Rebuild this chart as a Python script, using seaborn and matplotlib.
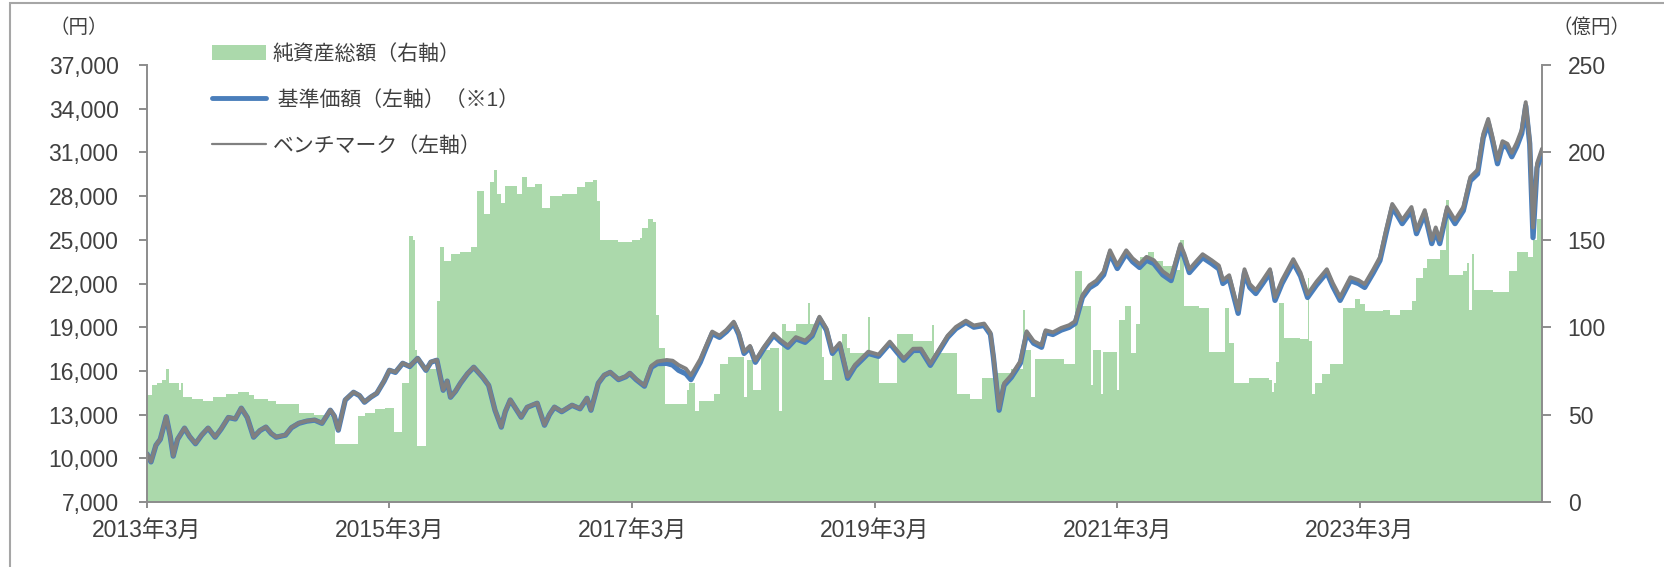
import numpy as np
import pandas as pd
import seaborn as sns
import matplotlib.pyplot as plt
import matplotlib.dates as mdates
from matplotlib.patches import Patch, Rectangle
from matplotlib.lines import Line2D

# 基準価額 / ベンチマーク (円)
price_dates = [
    "2013-03-01", "2013-03-13", "2013-03-28", "2013-04-10", "2013-04-28", "2013-05-10",
    "2013-05-19", "2013-06-01", "2013-06-22", "2013-07-07", "2013-07-25", "2013-08-13",
    "2013-09-01", "2013-09-22", "2013-10-10", "2013-11-01", "2013-11-22", "2013-12-10",
    "2013-12-28", "2014-01-16", "2014-02-04", "2014-02-22", "2014-03-10", "2014-03-25",
    "2014-04-22", "2014-05-10", "2014-06-01", "2014-06-25", "2014-07-19", "2014-08-10",
    "2014-09-04", "2014-09-16", "2014-09-28", "2014-10-19", "2014-11-13", "2014-12-01",
    "2014-12-16", "2015-01-04", "2015-01-22", "2015-02-13", "2015-03-01", "2015-03-19",
    "2015-04-10", "2015-05-01", "2015-05-25", "2015-06-19", "2015-07-04", "2015-07-22",
    "2015-08-10", "2015-08-22", "2015-09-01", "2015-09-16", "2015-10-01", "2015-10-22",
    "2015-11-10", "2015-12-07", "2015-12-25", "2016-01-13", "2016-02-01", "2016-02-13",
    "2016-02-28", "2016-03-13", "2016-04-01", "2016-04-19", "2016-05-19", "2016-06-10",
    "2016-06-25", "2016-07-10", "2016-08-01", "2016-09-01", "2016-09-25", "2016-10-16",
    "2016-10-28", "2016-11-19", "2016-12-07", "2016-12-25", "2017-01-19", "2017-02-10",
    "2017-02-22", "2017-03-13", "2017-04-07", "2017-04-28", "2017-05-16", "2017-06-13",
    "2017-07-01", "2017-07-19", "2017-08-10", "2017-08-25", "2017-09-22", "2017-10-10",
    "2017-10-28", "2017-11-19", "2017-12-10", "2018-01-01", "2018-01-16", "2018-02-01",
    "2018-02-19", "2018-03-07", "2018-04-01", "2018-05-01", "2018-05-22", "2018-06-13",
    "2018-07-07", "2018-08-04", "2018-08-25", "2018-09-16", "2018-10-07", "2018-10-25",
    "2018-11-16", "2018-12-10", "2019-01-01", "2019-01-19", "2019-02-10", "2019-03-13",
    "2019-04-16", "2019-05-07", "2019-05-28", "2019-06-25", "2019-07-19", "2019-08-16",
    "2019-09-10", "2019-10-07", "2019-11-01", "2019-12-01", "2019-12-25", "2020-01-25",
    "2020-02-13", "2020-02-22", "2020-03-10", "2020-03-25", "2020-04-16", "2020-05-13",
    "2020-06-01", "2020-06-22", "2020-07-16", "2020-07-28", "2020-08-19", "2020-09-13",
    "2020-10-07", "2020-10-25", "2020-11-16", "2020-12-07", "2020-12-28", "2021-01-19",
    "2021-02-07", "2021-03-01", "2021-03-28", "2021-04-16", "2021-05-07", "2021-05-28",
    "2021-06-19", "2021-07-16", "2021-08-10", "2021-09-07", "2021-09-19", "2021-10-04",
    "2021-10-25", "2021-11-13", "2021-12-10", "2022-01-01", "2022-01-13", "2022-02-01",
    "2022-02-28", "2022-03-19", "2022-04-04", "2022-04-22", "2022-05-13", "2022-06-04",
    "2022-06-19", "2022-07-10", "2022-08-13", "2022-09-04", "2022-09-25", "2022-10-22",
    "2022-11-22", "2022-12-10", "2023-01-01", "2023-02-01", "2023-02-25", "2023-03-16",
    "2023-04-10", "2023-05-01", "2023-05-19", "2023-06-07", "2023-06-22", "2023-07-07",
    "2023-08-04", "2023-08-19", "2023-09-13", "2023-10-04", "2023-10-16", "2023-10-28",
    "2023-11-19", "2023-12-13", "2024-01-07", "2024-01-28", "2024-02-19", "2024-03-07",
    "2024-03-22", "2024-04-04", "2024-04-19", "2024-05-04", "2024-05-19", "2024-06-01",
    "2024-06-16", "2024-07-01", "2024-07-13", "2024-07-25", "2024-08-04", "2024-08-16",
    "2024-08-31",
]
nav = [
    10300, 9750, 10900, 11300, 12850, 11500, 10150, 11300, 12070, 11500, 11000, 11600,
    12070, 11450, 12000, 12800, 12700, 13440, 12800, 11450, 11900, 12140, 11700, 11450,
    11590, 12100, 12400, 12550, 12620, 12400, 13300, 12900, 11930, 14000, 14530, 14300,
    13850, 14200, 14460, 15300, 16040, 15900, 16520, 16300, 16860, 16040, 16600, 16730,
    14670, 15300, 14190, 14600, 15150, 15800, 16250, 15560, 15000, 13300, 12140, 13200,
    14000, 13500, 12820, 13500, 13780, 12270, 13000, 13510, 13200, 13640, 13400, 14120,
    13300, 15150, 15700, 15900, 15400, 15600, 15830, 15400, 14950, 16250, 16500, 16520,
    16400, 16040, 15800, 15400, 16590, 17600, 18570, 18300, 18700, 19260, 18500, 17200,
    17600, 16590, 17500, 18440, 18000, 17620, 18200, 17960, 18400, 19600, 18800, 17200,
    17800, 15490, 16300, 16700, 17200, 17000, 17890, 17300, 16730, 17400, 17410, 16380,
    17300, 18300, 18900, 19330, 19000, 19120, 18500, 16930, 13300, 15000, 15560, 16520,
    18570, 17900, 17620, 18640, 18500, 18800, 18990, 19260, 21040, 21700, 22000, 22600,
    24050, 23030, 24050, 23500, 23100, 23600, 23370, 22600, 22200, 24470, 23800, 22750,
    23300, 23780, 23370, 23000, 22000, 22340, 19950, 22750, 21730, 21310, 22000, 22750,
    20840, 22000, 23440, 22500, 21040, 21900, 22750, 21800, 20840, 22200, 22000, 21730,
    22700, 23580, 25400, 27210, 26700, 26110, 27000, 25420, 26790, 24740, 25600, 24740,
    27000, 26110, 27000, 29050, 29530, 32000, 33030, 31800, 30220, 31500, 31320, 30700,
    31400, 32300, 34190, 31600, 25150, 29950, 30970,
]
benchmark = [
    10320, 9770, 10920, 11320, 12870, 11520, 10170, 11320, 12090, 11520, 11020, 11620,
    12090, 11470, 12020, 12820, 12720, 13460, 12820, 11470, 11920, 12160, 11720, 11470,
    11610, 12120, 12420, 12570, 12640, 12420, 13320, 12920, 11950, 14020, 14550, 14320,
    13870, 14220, 14480, 15320, 16060, 15920, 16540, 16320, 16880, 16060, 16620, 16750,
    14690, 15320, 14210, 14620, 15170, 15820, 16270, 15580, 15020, 13320, 12160, 13220,
    14020, 13520, 12840, 13520, 13800, 12290, 13020, 13530, 13220, 13660, 13420, 14140,
    13320, 15170, 15720, 15920, 15430, 15630, 15860, 15440, 15000, 16350, 16650, 16750,
    16700, 16400, 16150, 15700, 16800, 17750, 18700, 18420, 18820, 19380, 18620, 17320,
    17720, 16710, 17620, 18560, 18120, 17740, 18320, 18080, 18520, 19720, 18920, 17320,
    17920, 15610, 16420, 16820, 17320, 17120, 18010, 17420, 16850, 17520, 17530, 16500,
    17420, 18420, 19020, 19450, 19120, 19250, 18630, 17060, 13450, 15150, 15710, 16670,
    18720, 18050, 17770, 18790, 18650, 18950, 19140, 19410, 21200, 21880, 22200, 22820,
    24280, 23260, 24280, 23730, 23330, 23830, 23600, 22830, 22430, 24700, 24030, 22980,
    23530, 24010, 23600, 23230, 22230, 22570, 20200, 22980, 21960, 21540, 22230, 22980,
    21070, 22230, 23670, 22730, 21270, 22130, 22980, 22030, 21070, 22430, 22230, 21960,
    22930, 23810, 25650, 27460, 26950, 26360, 27250, 25670, 27040, 24990, 25850, 24990,
    27250, 26360, 27250, 29300, 29800, 32270, 33300, 32070, 30500, 31770, 31590, 30970,
    31670, 32570, 34450, 31870, 25850, 30250, 31250,
]

# 純資産総額 (億円)
asset_dates = [
    "2013-03-01", "2013-03-16", "2013-04-01", "2013-04-16", "2013-04-28", "2013-05-07",
    "2013-06-04", "2013-06-10", "2013-06-16", "2013-07-16", "2013-08-16", "2013-09-16",
    "2013-10-25", "2013-12-01", "2014-01-01", "2014-01-16", "2014-03-01", "2014-03-25",
    "2014-06-01", "2014-07-16", "2014-08-16", "2014-09-19", "2014-11-25", "2014-12-16",
    "2015-01-16", "2015-02-16", "2015-03-16", "2015-04-07", "2015-04-28", "2015-05-10",
    "2015-05-16", "2015-05-22", "2015-06-19", "2015-07-22", "2015-08-01", "2015-08-13",
    "2015-09-01", "2015-10-01", "2015-11-01", "2015-11-19", "2015-12-10", "2015-12-28",
    "2016-01-10", "2016-01-19", "2016-02-01", "2016-02-13", "2016-03-19", "2016-04-04",
    "2016-04-19", "2016-05-13", "2016-06-04", "2016-06-28", "2016-08-01", "2016-09-16",
    "2016-10-10", "2016-11-04", "2016-11-16", "2016-11-25", "2017-01-16", "2017-03-01",
    "2017-03-25", "2017-04-01", "2017-04-19", "2017-05-04", "2017-05-13", "2017-05-22",
    "2017-06-07", "2017-08-13", "2017-08-19", "2017-09-07", "2017-09-19", "2017-11-01",
    "2017-11-22", "2017-12-16", "2018-01-16", "2018-02-01", "2018-02-10", "2018-03-01",
    "2018-03-25", "2018-04-19", "2018-05-16", "2018-05-25", "2018-06-07", "2018-07-07",
    "2018-08-13", "2018-08-19", "2018-09-25", "2018-10-01", "2018-10-25", "2018-11-22",
    "2018-12-07", "2018-12-16", "2019-02-10", "2019-02-16", "2019-03-13", "2019-05-07",
    "2019-06-25", "2019-08-22", "2019-08-28", "2019-11-04", "2019-12-13", "2020-01-19",
    "2020-03-01", "2020-04-16", "2020-05-22", "2020-05-28", "2020-06-13", "2020-06-25",
    "2020-09-22", "2020-10-25", "2020-11-16", "2020-12-13", "2020-12-19", "2021-01-10",
    "2021-01-16", "2021-03-01", "2021-03-07", "2021-03-25", "2021-04-10", "2021-04-25",
    "2021-05-07", "2021-06-01", "2021-06-19", "2021-07-16", "2021-08-16", "2021-09-07",
    "2021-09-19", "2021-11-01", "2021-12-01", "2022-01-19", "2022-02-01", "2022-02-16",
    "2022-04-01", "2022-06-01", "2022-06-10", "2022-06-16", "2022-06-22", "2022-07-01",
    "2022-07-16", "2022-09-01", "2022-09-25", "2022-09-28", "2022-10-07", "2022-10-16",
    "2022-11-07", "2022-12-01", "2023-01-10", "2023-02-16", "2023-03-01", "2023-03-16",
    "2023-05-10", "2023-06-01", "2023-07-01", "2023-08-07", "2023-08-19", "2023-09-07",
    "2023-09-19", "2023-10-28", "2023-11-16", "2023-11-25", "2024-01-07", "2024-01-19",
    "2024-01-25", "2024-02-01", "2024-02-07", "2024-04-04", "2024-05-25", "2024-06-16",
    "2024-07-19", "2024-08-04", "2024-08-16", "2024-08-31",
]
net_assets = [
    61, 67, 68, 70, 76, 68, 64, 68, 60, 59, 58, 60,
    62, 63, 61, 59, 58, 56, 51, 50, 49, 33, 49, 51,
    53, 54, 40, 68, 152, 150, 87, 32, 76, 115, 146, 138,
    142, 143, 146, 178, 165, 183, 190, 176, 171, 181, 176, 186,
    180, 182, 168, 175, 176, 180, 183, 184, 172, 150, 149, 150,
    151, 157, 162, 160, 107, 88, 56, 64, 68, 52, 58, 62,
    79, 83, 83, 60, 81, 64, 87, 88, 52, 102, 98, 102,
    114, 102, 83, 70, 88, 96, 88, 85, 106, 85, 68, 96,
    92, 101, 85, 62, 59, 71, 74, 76, 110, 87, 60, 82,
    79, 132, 112, 67, 87, 62, 86, 64, 104, 112, 85, 102,
    140, 143, 138, 135, 133, 150, 112, 111, 86, 111, 91, 68,
    71, 70, 63, 68, 80, 114, 94, 93, 128, 92, 62, 68,
    73, 79, 111, 116, 113, 109, 110, 107, 110, 115, 128, 134,
    139, 144, 173, 130, 132, 137, 110, 142, 121, 120, 132, 143,
    140, 150, 162, 170,
]

x_ticks = ["2013-03-01", "2015-03-01", "2017-03-01", "2019-03-01", "2021-03-01", "2023-03-01"]
left_ticks = list(range(7000, 37001, 3000))
right_ticks = list(range(0, 251, 50))

GREEN = '#abd9ab'
BLUE = '#4a7ebb'
GREY = '#808080'
SPINE = '#8c8c8c'
TEXT = '#404040'

sns.set_theme(style='white')
plt.rcParams['font.family'] = ['Liberation Sans', 'Noto Sans CJK JP']

lines = pd.DataFrame({'date': pd.to_datetime(price_dates), 'nav': nav, 'bench': benchmark})
assets = pd.DataFrame({'date': pd.to_datetime(asset_dates), 'value': net_assets})

fig = plt.figure(figsize=(16.65, 5.67), dpi=100)
ax = fig.add_axes([147 / 1665, 65 / 567, 1395 / 1665, 437 / 567])
ax2 = ax.twinx()

# area on the right axis, drawn behind the lines
ax2.fill_between(assets['date'], assets['value'], step='post', color=GREEN, lw=0)
ax.set_zorder(ax2.get_zorder() + 1)
ax.patch.set_visible(False)

sns.lineplot(data=lines, x='date', y='nav', ax=ax, color=BLUE, lw=3.8, legend=False)
sns.lineplot(data=lines, x='date', y='bench', ax=ax, color=GREY, lw=2.8, legend=False)

ax.set_xlim(pd.Timestamp("2013-03-01"), pd.Timestamp("2024-08-31"))
ax.set_ylim(7000, 37000)
ax2.set_ylim(0, 250)
ax.set_xlabel('')
ax.set_ylabel('')

ax.set_xticks(pd.to_datetime(x_ticks))
ax.set_xticklabels([f"{d[:4]}年{int(d[5:7])}月" for d in x_ticks])
ax.set_yticks(left_ticks)
ax.set_yticklabels([f"{v:,}" for v in left_ticks])
ax2.set_yticks(right_ticks)
ax2.set_yticklabels([str(v) for v in right_ticks])

for a in (ax, ax2):
    a.grid(False)
    a.spines['top'].set_visible(False)
    for s in ('left', 'right', 'bottom'):
        a.spines[s].set_color(SPINE)
        a.spines[s].set_linewidth(1.4)
ax.spines['right'].set_visible(False)
ax2.spines['left'].set_visible(False)
ax2.spines['bottom'].set_visible(False)

ax.tick_params(axis='y', left=True, direction='out', length=5.5, width=1.4,
               color=SPINE, pad=15, labelsize=16.5, labelcolor=TEXT)
ax.tick_params(axis='x', bottom=True, direction='out', length=4, width=1.4,
               color=SPINE, pad=8, labelsize=16.5, labelcolor=TEXT)
ax2.tick_params(axis='y', right=True, direction='out', length=6.5, width=1.4,
                color=SPINE, pad=12, labelsize=16.5, labelcolor=TEXT)

fig.text(79 / 1665, 1 - 28 / 567, '（円）', ha='center', va='center',
         fontsize=14, color=TEXT)
fig.text(1592 / 1665, 1 - 28 / 567, '（億円）', ha='center', va='center',
         fontsize=14, color=TEXT)

handles = [Patch(facecolor=GREEN, edgecolor='none'),
           Line2D([], [], color=BLUE, lw=3.5),
           Line2D([], [], color=GREY, lw=1.6)]
labels = ['純資産総額（右軸）', ' 基準価額（左軸）（※1）', 'ベンチマーク（左軸）']
fig.legend(handles, labels, loc='upper left', bbox_to_anchor=(212 / 1665, 1 - 44 / 567),
           frameon=False, fontsize=15, handlelength=2.6, handleheight=0.7,
           handletextpad=0.3, labelspacing=1.25, borderpad=0, borderaxespad=0,
           labelcolor=TEXT)

# outer chart frame
fig.add_artist(Rectangle((10 / 1665, -0.1), 1.2, 1.1 - 3 / 567, transform=fig.transFigure,
                         fill=False, ec='#a6a6a6', lw=1.5))

fig.savefig('out.png', dpi=100)
